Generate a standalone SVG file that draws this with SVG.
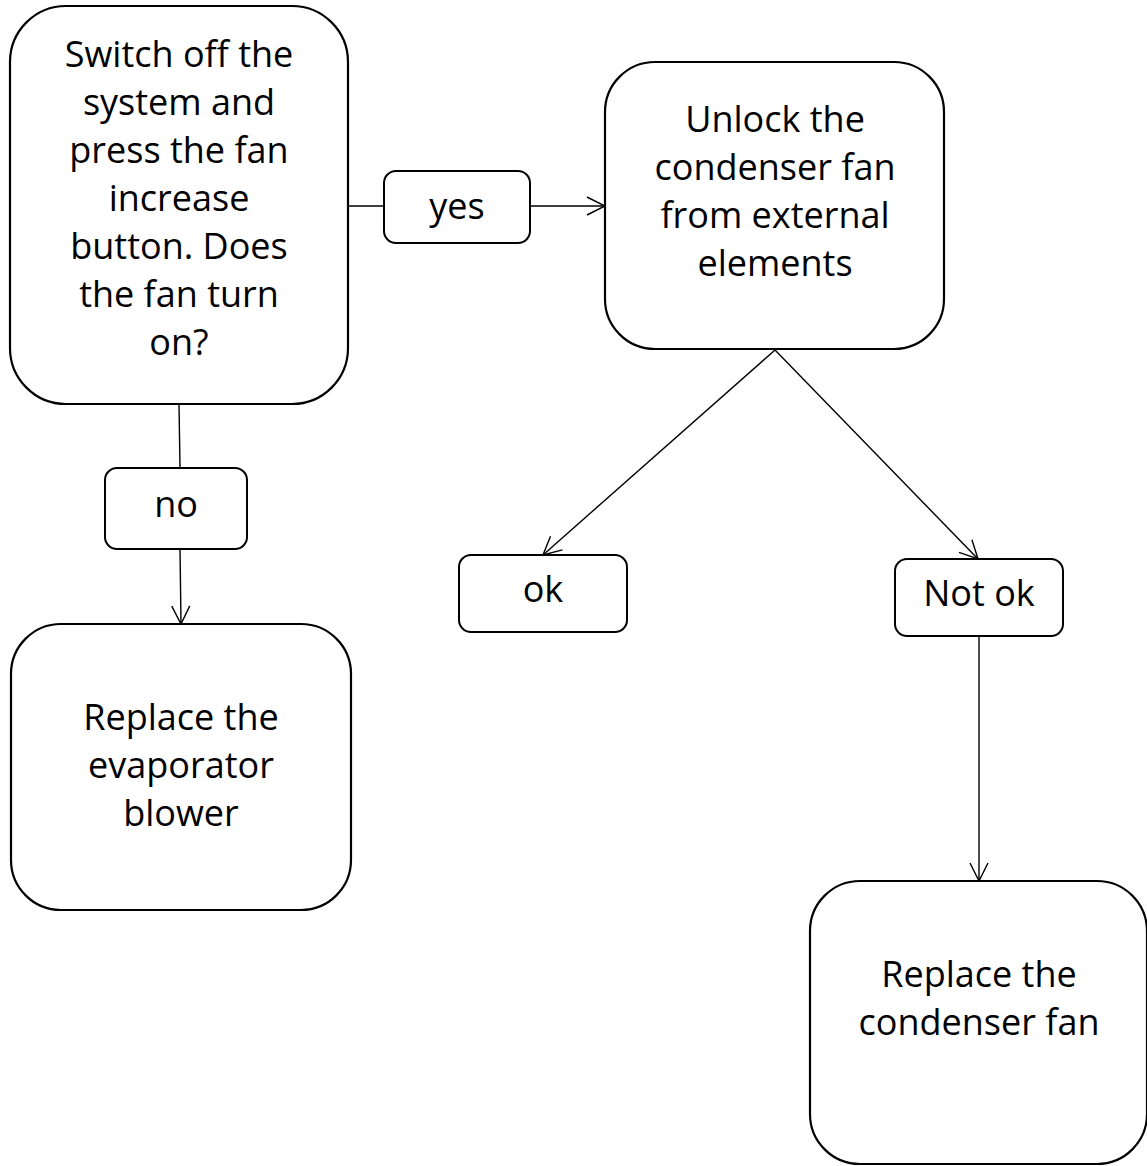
<svg xmlns="http://www.w3.org/2000/svg" width="1147" height="1166" viewBox="0 0 1147 1166">
<style>
.box{fill:#fff;stroke:#000;stroke-width:2.2}
.lbl{fill:#fff;stroke:#000;stroke-width:2}
.t{font-family:"Open Sans",Lato,"Liberation Sans",sans-serif;font-size:36px;fill:#000;text-anchor:middle}
.c{stroke:#000;stroke-width:1.4;fill:none}
</style>
<defs>
<marker id="arr" viewBox="0 0 20 20" refX="19" refY="10" markerWidth="20" markerHeight="20" markerUnits="userSpaceOnUse" orient="auto">
<path d="M1,1 L19,10 L1,19" fill="none" stroke="#000" stroke-width="1.4"/>
</marker>
</defs>
<rect width="1147" height="1166" fill="#fff"/>
<g id="connectors">
<line class="c" x1="348" y1="206" x2="384" y2="206"/>
<line class="c" x1="530" y1="206" x2="605" y2="206" marker-end="url(#arr)"/>
<line class="c" x1="179" y1="404" x2="180" y2="468"/>
<line class="c" x1="180" y1="549" x2="181" y2="624" marker-end="url(#arr)"/>
<line class="c" x1="775" y1="350" x2="543" y2="555" marker-end="url(#arr)"/>
<line class="c" x1="775" y1="350" x2="978" y2="559" marker-end="url(#arr)"/>
<line class="c" x1="979" y1="636" x2="979" y2="881" marker-end="url(#arr)"/>
</g>
<g id="n-switch">
<rect class="box" x="10" y="6" width="338" height="398" rx="56"/>
<text class="t" x="179"><tspan x="179" y="67">Switch off the</tspan><tspan x="179" y="115">system and</tspan><tspan x="179" y="163">press the fan</tspan><tspan x="179" y="211">increase</tspan><tspan x="179" y="259">button. Does</tspan><tspan x="179" y="307">the fan turn</tspan><tspan x="179" y="355">on?</tspan></text>
</g>
<g id="n-unlock">
<rect class="box" x="605" y="62" width="339" height="287" rx="50"/>
<text class="t"><tspan x="775" y="132">Unlock the</tspan><tspan x="775" y="180">condenser fan</tspan><tspan x="775" y="228">from external</tspan><tspan x="775" y="276">elements</tspan></text>
</g>
<g id="n-evap">
<rect class="box" x="11" y="624" width="340" height="286" rx="50"/>
<text class="t"><tspan x="181" y="730">Replace the</tspan><tspan x="181" y="778">evaporator</tspan><tspan x="181" y="826">blower</tspan></text>
</g>
<g id="n-cond">
<rect class="box" x="810" y="881" width="337" height="283" rx="50"/>
<text class="t"><tspan x="979" y="987">Replace the</tspan><tspan x="979" y="1035">condenser fan</tspan></text>
</g>
<g id="l-yes">
<rect class="lbl" x="384" y="171" width="146" height="72" rx="12"/>
<text class="t" x="457" y="219">yes</text>
</g>
<g id="l-no">
<rect class="lbl" x="105" y="468" width="142" height="81" rx="12"/>
<text class="t" x="176" y="517">no</text>
</g>
<g id="l-ok">
<rect class="lbl" x="459" y="555" width="168" height="77" rx="12"/>
<text class="t" x="543" y="602">ok</text>
</g>
<g id="l-notok">
<rect class="lbl" x="895" y="559" width="168" height="77" rx="12"/>
<text class="t" x="979" y="606">Not ok</text>
</g>
</svg>
